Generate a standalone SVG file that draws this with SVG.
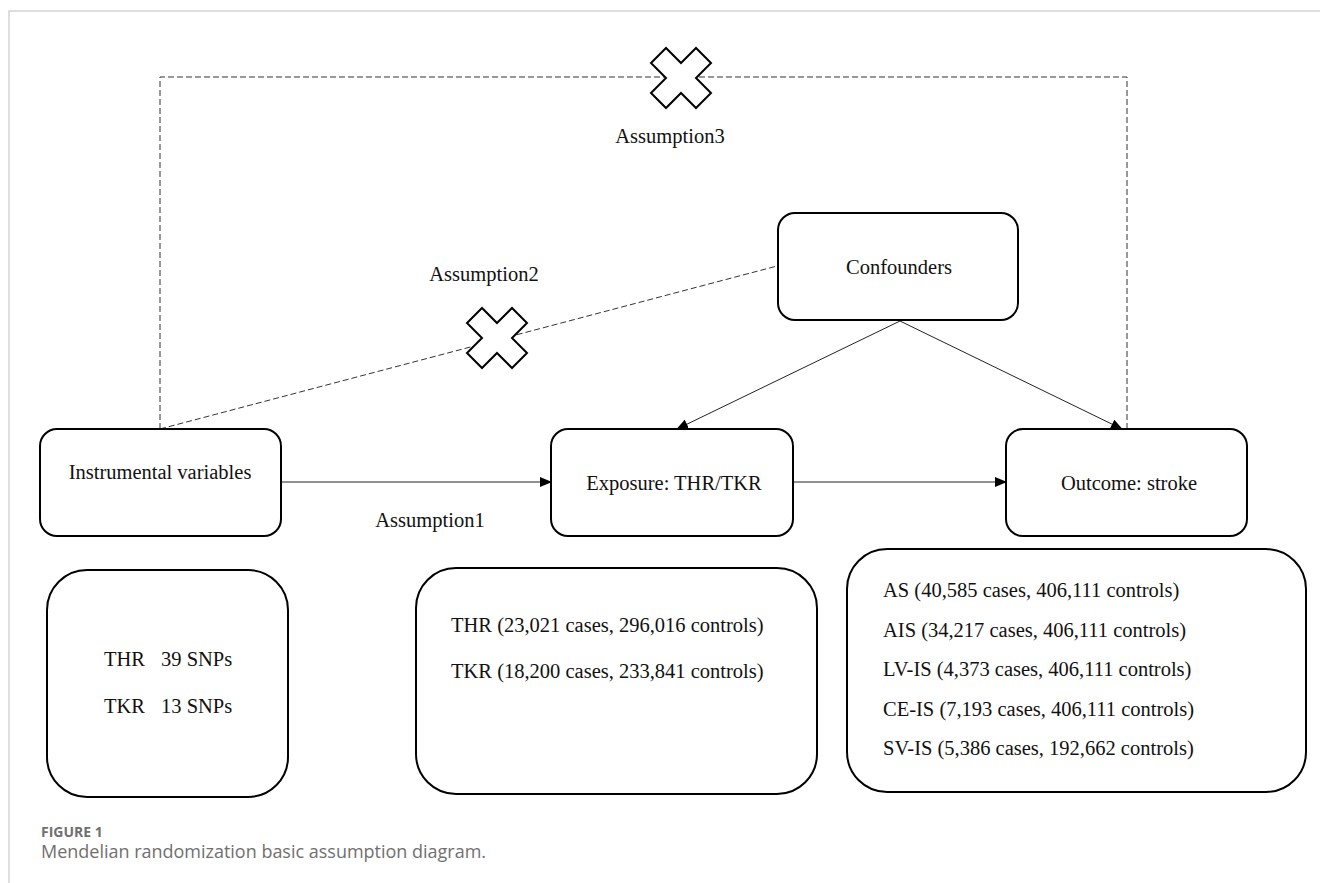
<svg xmlns="http://www.w3.org/2000/svg" width="1320" height="883" viewBox="0 0 1320 883">
<style>
.box{fill:#fff;stroke:#000;stroke-width:2}
.t{font-family:"Liberation Serif","Times New Roman",serif;font-size:20.5px;fill:#111}
.c{text-anchor:middle}
.sol{fill:none;stroke:#222;stroke-width:1}
.dash{fill:none;stroke:#333;stroke-width:1;stroke-dasharray:6 3}
.xm{fill:#fff;stroke:#000;stroke-width:2;stroke-linejoin:miter}
.cap1{font-family:"Open Sans","Noto Sans",sans-serif;font-size:14px;font-weight:bold;fill:#707070}
.cap2{font-family:"Open Sans","Noto Sans",sans-serif;font-size:18px;fill:#707070}
</style>
<defs>
<marker id="ah" markerWidth="12" markerHeight="10" refX="11" refY="5" orient="auto" markerUnits="userSpaceOnUse">
<path d="M0,0 L12,5 L0,10 Z" fill="#000"/>
</marker>
<polygon id="cross" points="0,-15 15,-30 30,-15 15,0 30,15 15,30 0,15 -15,30 -30,15 -15,0 -30,-15 -15,-30"/>
</defs>
<rect width="1320" height="883" fill="#fff"/>
<path d="M9,883 L9,11 L1320,11" fill="none" stroke="#d4d4d4" stroke-width="1.5"/>

<g id="connectors">
<path class="dash" d="M160,429 L160,77 L1127,77 L1127,429"/>
<path class="dash" d="M160,429 L777,266"/>
<line class="sol" x1="281" y1="482" x2="551" y2="482" marker-end="url(#ah)"/>
<line class="sol" x1="793" y1="482" x2="1006" y2="482" marker-end="url(#ah)"/>
<line class="sol" x1="900" y1="321" x2="677" y2="429" marker-end="url(#ah)"/>
<line class="sol" x1="900" y1="321" x2="1122" y2="429" marker-end="url(#ah)"/>
<use href="#cross" class="xm" x="681" y="78"/>
<use href="#cross" class="xm" x="497" y="338"/>
<text class="t c" x="670" y="143">Assumption3</text>
<text class="t c" x="484" y="281">Assumption2</text>
<text class="t c" x="430" y="527">Assumption1</text>
</g>

<g id="instrumental">
<rect class="box" x="40" y="429" width="241" height="107" rx="17"/>
<text class="t c" x="160" y="479">Instrumental variables</text>
</g>
<g id="exposure">
<rect class="box" x="551" y="429" width="242" height="107" rx="17"/>
<text class="t c" x="674" y="490">Exposure: THR/TKR</text>
</g>
<g id="outcome">
<rect class="box" x="1006" y="429" width="241" height="107" rx="17"/>
<text class="t c" x="1129" y="490">Outcome: stroke</text>
</g>
<g id="confounders">
<rect class="box" x="778" y="213" width="240" height="107" rx="17"/>
<text class="t c" x="899" y="274">Confounders</text>
</g>

<g id="snps">
<rect class="box" x="47" y="570" width="241" height="227" rx="40"/>
<text class="t" x="104" y="666">THR<tspan dx="16">39 SNPs</tspan></text>
<text class="t" x="104" y="713">TKR<tspan dx="16">13 SNPs</tspan></text>
</g>
<g id="exposure-data">
<rect class="box" x="416" y="568" width="401" height="226" rx="40"/>
<text class="t" x="451" y="632">THR (23,021 cases, 296,016 controls)</text>
<text class="t" x="451" y="678">TKR (18,200 cases, 233,841 controls)</text>
</g>
<g id="outcome-data">
<rect class="box" x="847" y="549" width="459" height="243" rx="40"/>
<text class="t" x="883" y="597">AS (40,585 cases, 406,111 controls)</text>
<text class="t" x="883" y="636.5">AIS (34,217 cases, 406,111 controls)</text>
<text class="t" x="883" y="676">LV-IS (4,373 cases, 406,111 controls)</text>
<text class="t" x="883" y="715.5">CE-IS (7,193 cases, 406,111 controls)</text>
<text class="t" x="883" y="755">SV-IS (5,386 cases, 192,662 controls)</text>
</g>

<g id="caption">
<text class="cap1" x="41" y="837">FIGURE 1</text>
<text class="cap2" x="41" y="858" textLength="445" lengthAdjust="spacingAndGlyphs">Mendelian randomization basic assumption diagram.</text>
</g>
</svg>
